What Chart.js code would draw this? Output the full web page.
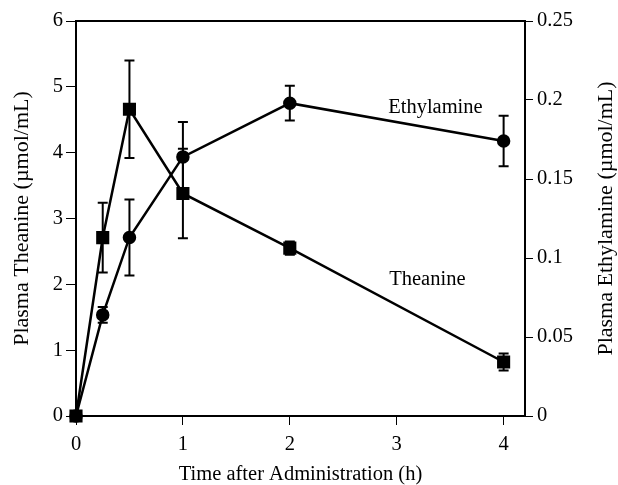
<!DOCTYPE html>
<html>
<head>
<meta charset="utf-8">
<script src="https://cdn.jsdelivr.net/npm/chart.js@4/dist/chart.umd.min.js"></script>
<style>
  html, body { margin: 0; padding: 0; background: #fff; }
  canvas { display: block; }
</style>
</head>
<body>
<canvas id="plasmaChart" width="618" height="485"></canvas>
<script>
// time points (h)
const times = [0, 0.25, 0.5, 1, 2, 4];

// Theanine, left axis (µmol/mL)
const theanine = [0, 2.71, 4.66, 3.38, 2.55, 0.82];
const theanineErr = [0, 0.53, 0.74, 0.68, 0.10, 0.13];

// Ethylamine, right axis (µmol/mL)
const ethylamine = [0, 0.064, 0.113, 0.164, 0.198, 0.174];
const ethylamineErr = [0, 0.005, 0.024, 0.022, 0.011, 0.016];

const xTicks = [0, 1, 2, 3, 4];
const leftTicks = [0, 1, 2, 3, 4, 5, 6];
const rightTicks = [0, 0.05, 0.1, 0.15, 0.2, 0.25];

const serif = "'Liberation Serif', 'DejaVu Serif', serif";
const fontSize = 20.5;
const yTitleSize = 22;

function toPoints(ys) {
    return times.map((t, i) => ({ x: t, y: ys[i] }));
}

// error bars, frame, series names and right-hand title
const extras = {
    id: 'extras',
    beforeDatasetsDraw(chart) {
        const ctx = chart.ctx;
        const x = chart.scales.x;
        const series = [
            { ys: theanine, err: theanineErr, scale: chart.scales.y },
            { ys: ethylamine, err: ethylamineErr, scale: chart.scales.y1 }
        ];
        ctx.save();
        ctx.strokeStyle = '#000';
        ctx.lineWidth = 2;
        series.forEach(s => {
            times.forEach((t, i) => {
                if (!s.err[i]) return;
                const px = x.getPixelForValue(t);
                const top = s.scale.getPixelForValue(s.ys[i] + s.err[i]);
                const bot = s.scale.getPixelForValue(s.ys[i] - s.err[i]);
                ctx.beginPath();
                ctx.moveTo(px, top); ctx.lineTo(px, bot);
                ctx.moveTo(px - 5, top); ctx.lineTo(px + 5, top);
                ctx.moveTo(px - 5, bot); ctx.lineTo(px + 5, bot);
                ctx.stroke();
            });
        });
        ctx.restore();
    },
    afterDraw(chart) {
        const ctx = chart.ctx;
        const a = chart.chartArea;
        ctx.save();
        ctx.strokeStyle = '#000';
        ctx.lineWidth = 2;
        ctx.strokeRect(a.left, a.top, a.right - a.left, a.bottom - a.top);

        ctx.fillStyle = '#000';
        ctx.font = fontSize + 'px ' + serif;
        ctx.textAlign = 'left';
        ctx.textBaseline = 'middle';
        const x = chart.scales.x, y = chart.scales.y;
        ctx.fillText('Ethylamine', x.getPixelForValue(2.92), y.getPixelForValue(4.68));
        ctx.fillText('Theanine', x.getPixelForValue(2.93), y.getPixelForValue(2.07));

        // right title reads bottom-to-top like the left one
        ctx.font = yTitleSize + 'px ' + serif;
        ctx.translate(606, (a.top + a.bottom) / 2);
        ctx.rotate(-Math.PI / 2);
        ctx.textAlign = 'center';
        ctx.fillText('Plasma Ethylamine (µmol/mL)', 0, 0);
        ctx.restore();
    }
};

function axisGrid(len) {
    return {
        drawOnChartArea: false,
        drawTicks: true,
        tickLength: len,
        tickWidth: 1,
        color: '#000'
    };
}

new Chart(document.getElementById('plasmaChart'), {
    type: 'line',
    data: {
        datasets: [
            {
                label: 'Theanine',
                data: toPoints(theanine),
                yAxisID: 'y',
                borderColor: '#000',
                backgroundColor: '#000',
                borderWidth: 2.5,
                pointStyle: 'rect',
                pointRadius: 7.5,
                tension: 0,
                clip: false
            },
            {
                label: 'Ethylamine',
                data: toPoints(ethylamine),
                yAxisID: 'y1',
                borderColor: '#000',
                backgroundColor: '#000',
                borderWidth: 2.5,
                pointStyle: 'circle',
                pointRadius: 5.5,
                tension: 0,
                clip: false
            }
        ]
    },
    options: {
        responsive: false,
        animation: false,
        layout: { padding: { left: 0, right: 0, top: 21, bottom: 0 } },
        plugins: {
            legend: { display: false },
            tooltip: { enabled: false }
        },
        scales: {
            x: {
                type: 'linear',
                min: 0,
                max: 4.2,
                afterBuildTicks: s => { s.ticks = xTicks.map(v => ({ value: v })); },
                afterFit: s => { s.height = 69; },
                ticks: { color: '#000', font: { family: serif, size: fontSize }, padding: 7 },
                grid: axisGrid(9),
                border: { color: '#000', width: 2 },
                title: {
                    display: true,
                    text: 'Time after Administration (h)',
                    color: '#000',
                    font: { family: serif, size: fontSize, lineHeight: 1 },
                    padding: { top: 0, bottom: 0 }
                }
            },
            y: {
                position: 'left',
                min: 0,
                max: 6,
                afterBuildTicks: s => { s.ticks = leftTicks.map(v => ({ value: v })); },
                afterFit: s => { s.width = 76; },
                ticks: { color: '#000', font: { family: serif, size: fontSize }, padding: 3 },
                grid: axisGrid(10),
                border: { color: '#000', width: 2 },
                title: {
                    display: true,
                    text: 'Plasma Theanine (µmol/mL)',
                    color: '#000',
                    font: { family: serif, size: yTitleSize, lineHeight: 1 },
                    padding: { top: 11, bottom: 0 }
                }
            },
            y1: {
                position: 'right',
                min: 0,
                max: 0.25,
                afterBuildTicks: s => { s.ticks = rightTicks.map(v => ({ value: v })); },
                afterFit: s => { s.width = 93; },
                ticks: {
                    color: '#000',
                    font: { family: serif, size: fontSize },
                    padding: 4,
                    callback: v => String(Number(v.toFixed(2)))
                },
                grid: axisGrid(8),
                border: { color: '#000', width: 2 }
            }
        }
    },
    plugins: [extras]
});
</script>
</body>
</html>
